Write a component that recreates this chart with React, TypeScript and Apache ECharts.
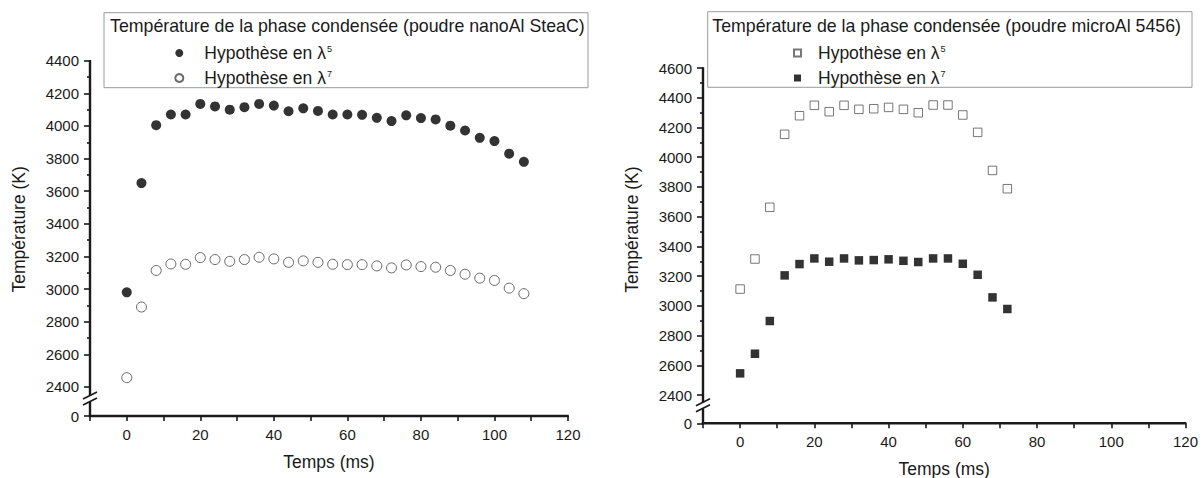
import React, { useEffect, useRef } from 'react';
import * as echarts from 'echarts';

// ---------- data ----------
const timeNano = [0, 4, 8, 12, 16, 20, 24, 28, 32, 36, 40, 44, 48, 52, 56, 60, 64, 68, 72, 76, 80, 84, 88, 92, 96, 100, 104, 108];
const nanoLambda5 = [2980, 3650, 4005, 4070, 4070, 4135, 4120, 4100, 4115, 4135, 4125, 4090, 4108, 4092, 4070, 4070, 4068, 4050, 4030, 4065, 4048, 4040, 4002, 3972, 3927, 3907, 3830, 3780];
const nanoLambda7 = [2457, 2890, 3114, 3154, 3152, 3193, 3181, 3170, 3181, 3195, 3185, 3164, 3173, 3164, 3152, 3150, 3150, 3142, 3130, 3148, 3138, 3134, 3114, 3091, 3067, 3053, 3006, 2972];

const timeMicro = [0, 4, 8, 12, 16, 20, 24, 28, 32, 36, 40, 44, 48, 52, 56, 60, 64, 68, 72];
const microLambda5 = [3113, 3315, 3663, 4154, 4279, 4349, 4306, 4349, 4322, 4326, 4335, 4322, 4299, 4351, 4351, 4284, 4167, 3911, 3788];
const microLambda7 = [2546, 2678, 2898, 3205, 3281, 3319, 3297, 3319, 3306, 3308, 3313, 3303, 3295, 3319, 3319, 3283, 3209, 3057, 2979];

const xTickValues = [-10, 0, 10, 20, 30, 40, 50, 60, 70, 80, 90, 100, 110, 120];
const xLabelValues = [0, 20, 40, 60, 80, 100, 120];

const titleNano = 'Température de la phase condensée (poudre nanoAl SteaC)';
const titleMicro = 'Température de la phase condensée (poudre microAl 5456)';
const name5 = 'Hypothèse en λ5';
const name7 = 'Hypothèse en λ7';
const xName = 'Temps (ms)';
const yName = 'Température (K)';

// ---------- style ----------
const FONT = '"Liberation Sans", Arial, sans-serif';
const TXT = '#1a1a1a';
const AX = '#1a1a1a';
const SQUARE = 'path://M0 0H10V10H0Z';

const zip = (xs: number[], ys: number[]) => xs.map((x, i) => [x, ys[i]]);

interface PanelCfg {
  gridLeft: number; gridRight: number; gridTop: number; gridBottom: number;
  yMax: number; gap: number; namePad: number;
  boxX: number; boxY: number; boxW: number; boxH: number;
  title: string; titleX: number;
  legendLeft: number; legendItemW: number; legendIconH: number;
  legendIcon?: string;
  series: any[]; legendOrder: string[];
  breakRatio: number;
}

function buildOption(p: PanelCfg) {
  const mk = () => ({ color: AX, width: 1.6 });
  return {
    animation: false,
    backgroundColor: '#fff',
    textStyle: { fontFamily: FONT, color: TXT },
    grid: { left: p.gridLeft, right: p.gridRight, top: p.gridTop, bottom: p.gridBottom, containLabel: false, outerBoundsMode: 'none' },
    xAxis: [{
      type: 'value', min: -10, max: 120,
      name: xName, nameLocation: 'middle', nameGap: 37,
      nameTextStyle: { fontSize: 17.5, color: TXT, fontFamily: FONT },
      axisLine: { show: false, onZero: false, lineStyle: mk() },
      axisTick: { show: true, inside: false, length: 5, customValues: xTickValues, lineStyle: mk() },
      axisLabel: { show: true, customValues: xLabelValues, margin: 11, fontSize: 15, color: TXT, fontFamily: FONT },
      splitLine: { show: false },
    }],
    yAxis: [{
      type: 'value', min: 0, max: p.yMax, interval: 200,
      breaks: [{ start: 0, end: 2400, gap: p.gap }],
      breakArea: { show: false, expandOnClick: false },
      name: yName, nameLocation: 'middle', nameGap: 62,
      nameTextStyle: { fontSize: 17.5, color: TXT, fontFamily: FONT, padding: [0, 0, 0, p.namePad] },
      axisLine: { show: false, onZero: false, lineStyle: mk() },
      axisTick: { show: true, inside: false, length: 6, lineStyle: mk() },
      minorTick: { show: true, splitNumber: 2, length: 3, lineStyle: mk() },
      axisLabel: {
        show: true, margin: 11, fontSize: 15, color: TXT, fontFamily: FONT, hideOverlap: false,
        formatter: (v: number) => (v % 200 === 0 ? String(v) : ''),
      },
      splitLine: { show: false },
      minorSplitLine: { show: false },
    }],
    legend: {
      orient: 'vertical',
      left: p.legendLeft, top: 44,
      padding: 0,
      itemWidth: p.legendItemW, itemHeight: p.legendIconH, itemGap: 7,
      selectedMode: false,
      data: p.legendOrder.map((n) => (p.legendIcon ? { name: n, icon: p.legendIcon } : { name: n })),
      formatter: (n: string) => `{a|${n.slice(0, -1)}}{s|${n.slice(-1)}}`,
      textStyle: {
        fontSize: 17.5, color: TXT, fontFamily: FONT, lineHeight: 18,
        rich: {
          a: { fontSize: 17.5, color: TXT, fontFamily: FONT, lineHeight: 18 },
          s: { fontSize: 9, color: TXT, fontFamily: FONT, verticalAlign: 'top', padding: [0, 0, 0, 1] },
        },
      },
    },
    graphic: [
      { id: 'box', type: 'rect', z: 1, shape: { x: p.boxX, y: p.boxY, width: p.boxW, height: p.boxH }, style: { fill: '#fff', stroke: '#9a9a9a', lineWidth: 1 } },
      { id: 'title', type: 'text', z: 2, x: p.titleX, y: 26, style: { text: p.title, fontSize: 17.75, fontFamily: FONT, fill: TXT, verticalAlign: 'middle', align: 'left' } },
    ],
    series: p.series,
  };
}

// axis lines and the Origin-style "//" break mark, placed from the axes' own pixel mapping
function addAxisMarks(chart: any, p: PanelCfg) {
  const ax = chart.convertToPixel({ xAxisIndex: 0 }, -10);
  const axEnd = chart.convertToPixel({ xAxisIndex: 0 }, 120);
  const y0 = chart.convertToPixel({ yAxisIndex: 0 }, 0);
  const y1 = chart.convertToPixel({ yAxisIndex: 0 }, 2400);
  const yTop = chart.convertToPixel({ yAxisIndex: 0 }, p.yMax);
  if ([ax, axEnd, y0, y1, yTop].some((v) => typeof v !== 'number' || isNaN(v))) return;
  const mid = y0 + (y1 - y0) * p.breakRatio;
  const w = 2.4;
  const ls = { stroke: AX, lineWidth: 1.6 };
  chart.setOption({
    graphic: [
      { id: 'box' }, { id: 'title' },
      { id: 'yLine', type: 'rect', z: 50, shape: { x: ax - w / 2, y: yTop - 0.8, width: w, height: y0 - yTop + 0.8 + w / 2 }, style: { fill: AX } },
      { id: 'xLine', type: 'rect', z: 50, shape: { x: ax - w / 2, y: y0 - w / 2, width: axEnd - ax + w / 2 + 0.8, height: w }, style: { fill: AX } },
      { id: 'gapRect', type: 'rect', z: 60, shape: { x: ax - 2.5, y: mid - 3, width: 5, height: 6 }, style: { fill: '#fff' } },
      { id: 'slash1', type: 'line', z: 61, shape: { x1: ax - 7, y1: mid - 3 + 3.5, x2: ax + 7, y2: mid - 3 - 3.5 }, style: ls },
      { id: 'slash2', type: 'line', z: 61, shape: { x1: ax - 7, y1: mid + 3 + 3.5, x2: ax + 7, y2: mid + 3 - 3.5 }, style: ls },
    ],
  });
}

const nanoCfg: PanelCfg = {
  gridLeft: 90, gridRight: 34, gridTop: 60.7, gridBottom: 62,
  yMax: 4400, gap: 178, namePad: 18,
  boxX: 104, boxY: 12.7, boxW: 484, boxH: 75,
  title: titleNano, titleX: 110,
  legendLeft: 174.3, legendItemW: 40, legendIconH: 8,
  legendOrder: [name5, name7],
  breakRatio: 0.6,
  series: [
    { name: name5, type: 'scatter', symbol: 'circle', symbolSize: 10, data: zip(timeNano, nanoLambda5), itemStyle: { color: '#000' }, z: 3 },
    { name: name7, type: 'scatter', symbol: 'circle', symbolSize: 10, data: zip(timeNano, nanoLambda7), itemStyle: { color: '#fff', borderColor: '#444', borderWidth: 1 }, z: 3 },
  ],
};

const microCfg: PanelCfg = {
  gridLeft: 101, gridRight: 18.5, gridTop: 68, gridBottom: 54.7,
  yMax: 4600, gap: 190, namePad: 32,
  boxX: 105.7, boxY: 11.7, boxW: 484.3, boxH: 75.6,
  title: titleMicro, titleX: 110.3,
  legendLeft: 191, legendItemW: 31, legendIconH: 7,
  legendIcon: SQUARE,
  legendOrder: [name5, name7],
  breakRatio: 0.64,
  series: [
    { name: name5, type: 'scatter', symbol: 'rect', symbolSize: 8.5, data: zip(timeMicro, microLambda5), itemStyle: { color: '#fff', borderColor: '#555', borderWidth: 1 }, z: 3 },
    { name: name7, type: 'scatter', symbol: 'rect', symbolSize: 8.5, data: zip(timeMicro, microLambda7), itemStyle: { color: '#000' }, z: 3 },
  ],
};

function Panel({ cfg, left }: { cfg: PanelCfg; left: number }) {
  const ref = useRef<HTMLDivElement>(null);
  useEffect(() => {
    if (!ref.current) return;
    const chart = echarts.init(ref.current, null, { renderer: 'svg' });
    chart.setOption(buildOption(cfg) as any);
    addAxisMarks(chart, cfg);
    return () => chart.dispose();
  }, [cfg]);
  return <div ref={ref} style={{ position: 'absolute', left, top: 0, width: 602, height: 478 }} />;
}

export default function App() {
  return (
    <div style={{ position: 'absolute', left: 0, top: 0, width: 1204, height: 478, background: '#fff', overflow: 'hidden' }}>
      <Panel cfg={nanoCfg} left={0} />
      <Panel cfg={microCfg} left={602} />
    </div>
  );
}
